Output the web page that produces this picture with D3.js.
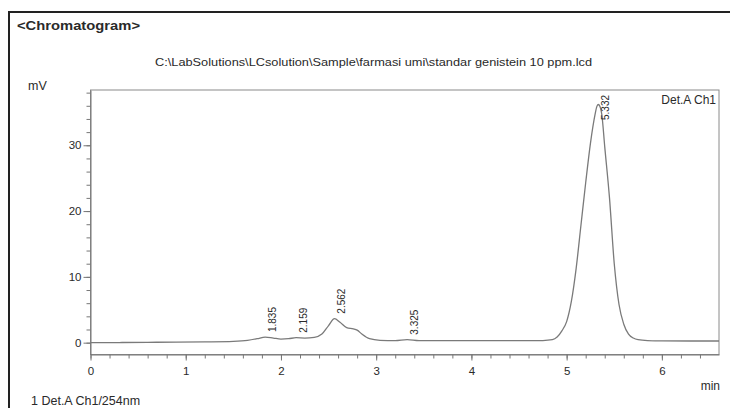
<!DOCTYPE html>
<html>
<head>
<meta charset="utf-8">
<script src="https://cdn.jsdelivr.net/npm/d3@7/dist/d3.min.js"></script>
<style>
  body { margin: 0; background: #fff; }
  text { font-family: "Liberation Sans", Arial, sans-serif; fill: #2a2a2a; }
</style>
</head>
<body>
<div id="chart"></div>
<script>
// retention time (min) and signal (mV)
const times = [0, 0.3, 0.6, 0.9, 1.2, 1.5, 1.65, 1.75, 1.835, 1.92, 2.0, 2.08, 2.159, 2.25, 2.35, 2.43, 2.5, 2.562, 2.62, 2.69, 2.76, 2.8, 2.85, 2.93, 3.04, 3.2, 3.325, 3.45, 3.7, 4.0, 4.3, 4.6, 4.75, 4.85, 4.9, 4.95, 5.0, 5.05, 5.1, 5.15, 5.2, 5.25, 5.3, 5.315, 5.332, 5.35, 5.37, 5.4, 5.45, 5.5, 5.55, 5.6, 5.65, 5.7, 5.75, 5.85, 6.0, 6.3, 6.6];
const signal = [0.0, 0.02, 0.05, 0.08, 0.12, 0.2, 0.35, 0.6, 0.85, 0.7, 0.55, 0.6, 0.75, 0.7, 0.8, 1.3, 2.6, 3.65, 3.1, 2.3, 2.1, 1.9, 1.3, 0.6, 0.35, 0.3, 0.45, 0.3, 0.3, 0.3, 0.3, 0.3, 0.32, 0.45, 0.85, 1.8, 3.2, 6.3, 11.3, 17.8, 24.3, 30.3, 34.8, 35.8, 36.2, 35.9, 34.6, 29.8, 22.0, 12.0, 5.8, 2.8, 1.3, 0.7, 0.45, 0.32, 0.28, 0.25, 0.25];
const peakLabels = ['1.835', '2.159', '2.562', '3.325', '5.332'];
const xTicks = [0, 1, 2, 3, 4, 5, 6];
const yTicks = [0, 10, 20, 30];

const width = 730, height = 408;
const pLeft = 90.5, pRight = 719, pTop = 90, pBottom = 354.5;

const svg = d3.select('#chart').append('svg')
  .attr('width', width)
  .attr('height', height);

svg.append('rect').attr('width', width).attr('height', height).attr('fill', '#fff');

// outer report frame
svg.append('path')
  .attr('d', `M9,${height} V12 H${width}`)
  .attr('fill', 'none')
  .attr('stroke', '#222')
  .attr('stroke-width', 2);

svg.append('text')
  .attr('x', 17).attr('y', 30)
  .attr('font-size', 13.5)
  .attr('font-weight', 'bold')
  .attr('textLength', 123)
  .attr('lengthAdjust', 'spacingAndGlyphs')
  .text('<Chromatogram>');

svg.append('text')
  .attr('x', 155).attr('y', 66)
  .attr('font-size', 11.5)
  .attr('textLength', 437)
  .attr('lengthAdjust', 'spacingAndGlyphs')
  .text('C:\\LabSolutions\\LCsolution\\Sample\\farmasi umi\\standar genistein 10 ppm.lcd');

svg.append('text').attr('x', 28).attr('y', 90).attr('font-size', 12.5).text('mV');

const x = d3.scaleLinear().domain([0, 6.6]).range([pLeft, pRight]);
const y = d3.scaleLinear().domain([-1.8, 38.4]).range([pBottom, pTop]);

svg.append('rect')
  .attr('x', pLeft).attr('y', pTop)
  .attr('width', pRight - pLeft).attr('height', pBottom - pTop)
  .attr('fill', 'none')
  .attr('stroke', '#8a8a8a');

// minor ticks
svg.append('g')
  .attr('transform', `translate(${pLeft},0)`)
  .call(d3.axisLeft(y).tickValues(d3.range(0, 39, 2)).tickSize(4).tickSizeOuter(0).tickFormat(''))
  .call(g => g.select('.domain').remove())
  .call(g => g.selectAll('line').attr('stroke', '#777'));
svg.append('g')
  .attr('transform', `translate(0,${pBottom})`)
  .call(d3.axisBottom(x).tickValues(d3.range(0, 33).map(i => i * 0.2)).tickSize(4).tickSizeOuter(0).tickFormat(''))
  .call(g => g.select('.domain').remove())
  .call(g => g.selectAll('line').attr('stroke', '#777'));

// major ticks
svg.append('g')
  .attr('transform', `translate(${pLeft},0)`)
  .call(d3.axisLeft(y).tickValues(yTicks).tickSize(7).tickPadding(2).tickSizeOuter(0).tickFormat(d3.format('d')))
  .call(g => g.select('.domain').attr('stroke', '#777'))
  .call(g => g.selectAll('line').attr('stroke', '#777'))
  .call(g => g.selectAll('text').attr('font-size', 11.5).attr('font-family', null).attr('fill', '#2a2a2a'));
svg.append('g')
  .attr('transform', `translate(0,${pBottom})`)
  .call(d3.axisBottom(x).tickValues(xTicks).tickSize(6).tickPadding(6).tickSizeOuter(0).tickFormat(d3.format('d')))
  .call(g => g.select('.domain').attr('stroke', '#777'))
  .call(g => g.selectAll('line').attr('stroke', '#777'))
  .call(g => g.selectAll('text').attr('font-size', 11.5).attr('font-family', null).attr('fill', '#2a2a2a'));

svg.append('text').attr('x', 720).attr('y', 390).attr('font-size', 12).attr('text-anchor', 'end').text('min');
svg.append('text').attr('x', 716).attr('y', 103.5).attr('font-size', 12).attr('text-anchor', 'end').text('Det.A Ch1');
svg.append('text').attr('x', 31).attr('y', 405).attr('font-size', 12.5).text('1 Det.A Ch1/254nm');

// trace
const line = d3.line()
  .x((d, i) => x(times[i]))
  .y(d => y(d))
  .curve(d3.curveMonotoneX);

svg.append('path')
  .datum(signal)
  .attr('d', line)
  .attr('fill', 'none')
  .attr('stroke', '#7a7a7a')
  .attr('stroke-width', 1.3);

// peak retention time labels
peakLabels.forEach(p => {
  const t = +p;
  const i = times.indexOf(t);
  let base = y(signal[i]) - 5;
  const len = 25;
  if (base - len < pTop + 5) base = pTop + 5 + len;
  svg.append('text')
    .attr('transform', `translate(${x(t) + 11},${base}) rotate(-90)`)
    .attr('font-size', 10)
    .attr('fill', '#333')
    .text(p);
});
</script>
</body>
</html>
